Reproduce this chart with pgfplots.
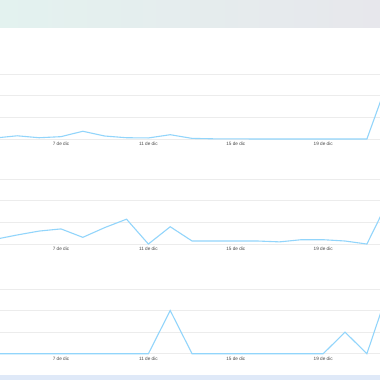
\documentclass[border=0pt]{standalone}
\usepackage{pgfplots}
\pgfplotsset{compat=1.18}
\usepackage{pgfplotstable}
\usepackage{fontspec}
\setmainfont{Liberation Sans}
\definecolor{lineblue}{HTML}{92D5FB}
\definecolor{gridgray}{HTML}{ECECEC}
\definecolor{headL}{HTML}{E3F2EF}
\definecolor{headR}{HTML}{E7E7EC}
\definecolor{band}{HTML}{DFE9F8}
\definecolor{ticktext}{HTML}{4A4A4A}

\pgfplotstableread{
day a b c
4 0.05 0.22 0
5 0.15 0.42 0
6 0.06 0.60 0
7 0.11 0.70 0
8 0.36 0.31 0
9 0.14 0.76 0
10 0.06 1.15 0
11 0.05 0.00 0
12 0.20 0.80 2
13 0.03 0.14 0
14 0.01 0.14 0
15 0.01 0.14 0
16 0.00 0.14 0
17 0.00 0.10 0
18 0.00 0.20 0
19 0.00 0.20 0
20 0.00 0.14 1
21 0.00 0.00 0
22 2.80 2.05 3
}\datatable

\pgfplotsset{
  minichart/.style={
    width=380bp, height=67.0bp, scale only axis,
    xmin=4.21, xmax=21.6, ymin=-0.1, ymax=3.0,
    axis line style={draw=none},
    xtick={7,11,15,19},
    xticklabels={7 de dic,11 de dic,15 de dic,19 de dic},
    ytick={0,1,2,3}, yticklabels={},
    major tick length=0pt,
    ymajorgrids, grid style={gridgray, line width=0.8bp},
    xticklabel style={font=\fontsize{4.7}{5}\selectfont, text=ticktext, anchor=north, inner sep=0pt, yshift=-1.2bp},
    anchor=south west,
  }
}

\begin{document}
\begin{tikzpicture}
\useasboundingbox (0bp,0bp) rectangle (380bp,380bp);
\fill[white] (0bp,0bp) rectangle (380bp,380bp);
\shade[left color=headL, right color=headR] (0bp,352.3bp) rectangle (380bp,380bp);
\fill[band] (0bp,0bp) rectangle (380bp,5bp);

\begin{axis}[minichart, at={(0bp,238.8bp)}]
\addplot[lineblue, line width=1.1bp] table[x=day, y=a] {\datatable};
\end{axis}

\begin{axis}[minichart, at={(0bp,133.8bp)}]
\addplot[lineblue, line width=1.1bp] table[x=day, y=b] {\datatable};
\end{axis}

\begin{axis}[minichart, at={(0bp,24.1bp)}]
\addplot[lineblue, line width=1.1bp] table[x=day, y=c] {\datatable};
\end{axis}
\end{tikzpicture}
\end{document}
